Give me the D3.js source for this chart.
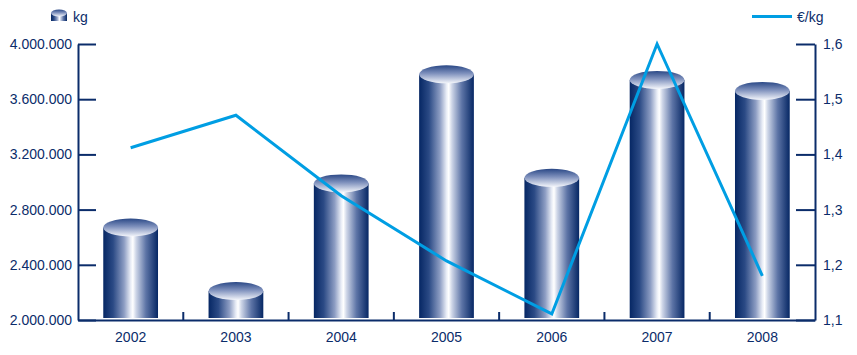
<!DOCTYPE html>
<html>
<head>
<meta charset="utf-8">
<script src="https://cdn.jsdelivr.net/npm/d3@7"></script>
<style>
  body { margin: 0; background: #fff; }
  text { font-family: "Liberation Sans", Arial, sans-serif; }
</style>
</head>
<body>
<div id="chart"></div>
<script>
// data
const years = ["2002", "2003", "2004", "2005", "2006", "2007", "2008"];
const kg = [2670000, 2210000, 2990000, 3780000, 3030000, 3740000, 3660000];
const price = [1.412, 1.471, 1.325, 1.207, 1.111, 1.6, 1.18];
const kgTicks = [2000000, 2400000, 2800000, 3200000, 3600000, 4000000];
const priceTicks = [1.1, 1.2, 1.3, 1.4, 1.5, 1.6];

const width = 857, height = 355;
const plotLeft = 78, plotRight = 815, plotTop = 44, plotBottom = 320;
const navy = "#0b2c6a";
const lineBlue = "#009ee3";

const loc = d3.formatLocale({ decimal: ",", thousands: ".", grouping: [3], currency: ["", "€"] });

const svg = d3.select("#chart").append("svg")
    .attr("width", width)
    .attr("height", height);

const defs = svg.append("defs");

const body = defs.append("linearGradient").attr("id", "body").attr("x1", 0).attr("x2", 1).attr("y1", 0).attr("y2", 0);
[[0, "#062764"], [0.18, "#2b4a85"], [0.38, "#8d9dc3"], [0.5, "#e9edf6"], [0.54, "#ffffff"], [0.6, "#cdd5e7"], [0.78, "#5d74a6"], [1, "#062764"]]
  .forEach(s => body.append("stop").attr("offset", s[0]).attr("stop-color", s[1]));

const cap = defs.append("linearGradient").attr("id", "cap").attr("x1", 0).attr("x2", 0).attr("y1", 0).attr("y2", 1);
[[0, "#2a4886"], [0.45, "#7f91bd"], [1, "#f4f6fb"]]
  .forEach(s => cap.append("stop").attr("offset", s[0]).attr("stop-color", s[1]));

const x = d3.scaleBand()
    .domain(years)
    .range([plotLeft, plotRight])
    .paddingInner(0.48)
    .paddingOuter(0.24);

const y = d3.scaleLinear()
    .domain([2000000, 4000000])
    .range([plotBottom, plotTop]);

const y2 = d3.scaleLinear()
    .domain([1.1, 1.6])
    .range([plotBottom, plotTop]);

const ry = 9;

// cylinders
const bars = svg.append("g").selectAll("g")
  .data(years)
  .enter().append("g");

bars.append("rect")
    .attr("x", d => x(d))
    .attr("y", (d, i) => y(kg[i]))
    .attr("width", x.bandwidth())
    .attr("height", (d, i) => plotBottom - 2 - y(kg[i]))
    .attr("fill", "url(#body)");

bars.append("ellipse")
    .attr("cx", d => x(d) + x.bandwidth() / 2)
    .attr("cy", (d, i) => y(kg[i]))
    .attr("rx", x.bandwidth() / 2)
    .attr("ry", ry)
    .attr("fill", "url(#cap)");

// axes
const axisL = svg.append("g")
    .attr("transform", `translate(${plotLeft},0)`)
    .call(d3.axisLeft(y).tickValues(kgTicks).tickFormat(loc.format(",d")).tickSize(-18).tickSizeOuter(0).tickPadding(6));

const axisR = svg.append("g")
    .attr("transform", `translate(${plotRight},0)`)
    .call(d3.axisRight(y2).tickValues(priceTicks).tickFormat(loc.format(".1f")).tickSize(-19).tickSizeOuter(0).tickPadding(8));

const axisB = svg.append("g")
    .attr("transform", `translate(0,${plotBottom})`)
    .call(d3.axisBottom(x).tickSize(0).tickSizeOuter(0).tickPadding(12));

[axisL, axisR, axisB].forEach(a => {
  a.select(".domain").attr("stroke", navy).attr("stroke-width", 2);
  a.selectAll(".tick line").attr("stroke", navy).attr("stroke-width", 2);
  a.selectAll("text").attr("fill", navy).style("font-size", "14px");
});

// small ticks between categories
const gap = (x.step() - x.bandwidth()) / 2;
svg.append("g").selectAll("line")
  .data(years.slice(1))
  .enter().append("line")
    .attr("x1", d => x(d) - gap)
    .attr("x2", d => x(d) - gap)
    .attr("y1", plotBottom)
    .attr("y2", plotBottom - 8)
    .attr("stroke", navy)
    .attr("stroke-width", 2);

// price line
const line = d3.line()
    .x((d, i) => x(years[i]) + x.bandwidth() / 2)
    .y(d => y2(d));

svg.append("path")
    .datum(price)
    .attr("d", line)
    .attr("fill", "none")
    .attr("stroke", lineBlue)
    .attr("stroke-width", 3)
    .attr("stroke-linejoin", "miter");

// legend
const lg = svg.append("g");
lg.append("rect").attr("x", 51).attr("y", 13).attr("width", 16).attr("height", 8).attr("fill", "url(#body)");
lg.append("ellipse").attr("cx", 59).attr("cy", 13).attr("rx", 8).attr("ry", 3.5).attr("fill", "url(#cap)");
lg.append("text").attr("x", 73).attr("y", 22).attr("fill", navy).style("font-size", "14px").text("kg");

lg.append("line").attr("x1", 752).attr("x2", 792).attr("y1", 16.5).attr("y2", 16.5)
    .attr("stroke", lineBlue).attr("stroke-width", 3);
lg.append("text").attr("x", 797).attr("y", 22).attr("fill", navy).style("font-size", "14px").text("€/kg");
</script>
</body>
</html>
